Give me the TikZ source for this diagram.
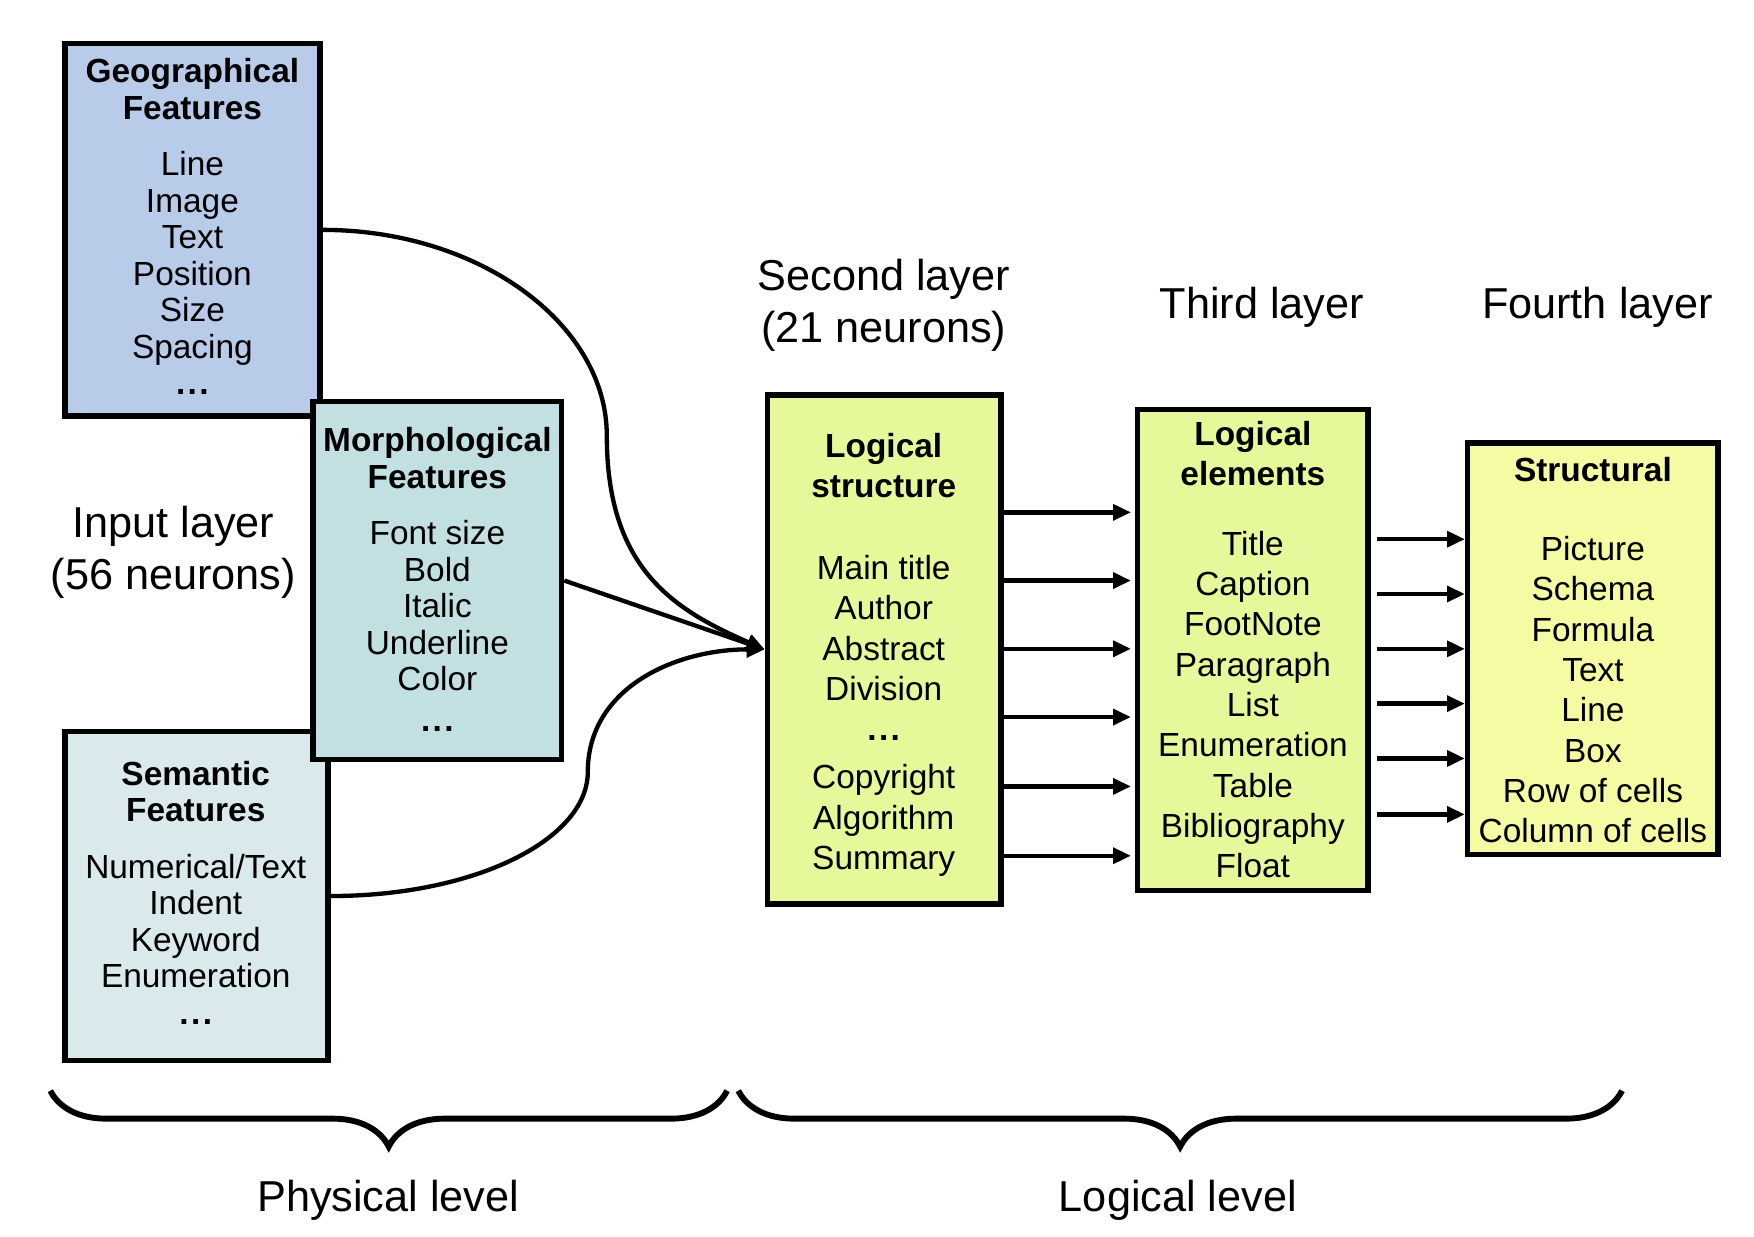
\documentclass[tikz,border=0pt]{standalone}
\usepackage{fontspec}
\setmainfont{Liberation Sans}
\usetikzlibrary{arrows.meta,decorations.pathreplacing}

\definecolor{geoblue}{HTML}{B8CCEA}
\definecolor{morphblue}{HTML}{C2E0E2}
\definecolor{semblue}{HTML}{DAEAEC}
\definecolor{logyellow}{HTML}{E5F99B}
\definecolor{structyellow}{HTML}{F5FBA2}

\newcommand{\moredots}{\textbf{.\kern1.2pt.\kern1.2pt.}}

\begin{document}
\begin{tikzpicture}[
    box/.style={draw, line width=2.8pt, inner sep=0pt},
    ftxt/.style={anchor=north, align=center, inner sep=0pt, font=\fontsize{17}{18.6}\selectfont},
    ltxt/.style={anchor=north, align=center, inner sep=0pt, font=\fontsize{17}{20.5}\selectfont},
    layer/.style={anchor=north, align=center, inner sep=0pt, font=\fontsize{22}{26.6}\selectfont},
    conn/.style={line width=2.2pt, -{Triangle[length=0.32cm,width=0.28cm]}},
    brc/.style={decorate, decoration={brace, mirror, amplitude=1cm}, line width=3pt}
  ]

  \useasboundingbox (0,0) rectangle (31.36,-22.10);

  % boxes
  \begin{scope}[every node/.style={box}]
    \node[fill=geoblue, minimum width=4.56cm, minimum height=6.66cm] (geo) at (3.44,-4.11) {};
    \node[fill=semblue, minimum width=4.70cm, minimum height=5.88cm] (sem) at (3.51,-16.02) {};
    \node[fill=morphblue, minimum width=4.44cm, minimum height=6.40cm] (morph) at (7.82,-10.38) {};
    \node[fill=logyellow, minimum width=4.18cm, minimum height=9.10cm] (lstruct) at (15.81,-11.61) {};
    \node[fill=logyellow, minimum width=4.12cm, minimum height=8.60cm] (lelem) at (22.40,-11.62) {};
    \node[fill=structyellow, minimum width=4.48cm, minimum height=7.36cm] (struct) at (28.48,-11.60) {};
  \end{scope}

  % box contents
  \node[ftxt] (geo-t) at (3.44,-1.04) {\textbf{Geographical}\\\textbf{Features}\\[10pt]Line\\Image\\Text\\Position\\Size\\Spacing\\\moredots};
  \node[ftxt] (morph-t) at (7.82,-7.64) {\textbf{Morphological}\\\textbf{Features}\\[10pt]Font size\\Bold\\Italic\\Underline\\Color\\[2pt]\moredots};
  \node[ftxt] (sem-t) at (3.50,-13.60) {\textbf{Semantic}\\\textbf{Features}\\[10pt]Numerical/Text\\Indent\\Keyword\\Enumeration\\\moredots};
  \node[ltxt] (lstruct-t) at (15.80,-7.74) {\textbf{Logical}\\\textbf{structure}\\[21pt]Main title\\Author\\Abstract\\Division\\\moredots\\[4pt]Copyright\\Algorithm\\Summary};
  \node[ltxt] (lelem-t) at (22.40,-7.52) {\textbf{Logical}\\\textbf{elements}\\[15pt]Title\\Caption\\FootNote\\Paragraph\\List\\Enumeration\\Table\\Bibliography\\Float};
  \node[ltxt] (struct-t) at (28.48,-8.16) {\textbf{Structural}\\[20pt]Picture\\Schema\\Formula\\Text\\Line\\Box\\Row of cells\\Column of cells};

  % layer names
  \node[layer] (second) at (15.80,-4.62) {Second layer\\(21 neurons)};
  \node[layer] (third) at (22.56,-5.12) {Third layer};
  \node[layer] (fourth) at (28.56,-5.12) {Fourth layer};
  \node[layer] (input) at (3.10,-9.04) {Input layer\\(56 neurons)};

  % connections
  \draw[conn] (geo.east) .. controls +(2.8,0) and +(0,2.0) .. ++(5.08,-3.68)
    .. controls +(0,-2.4) and +(-1.6,0.7) .. (lstruct.west);
  \draw[conn] (morph.east) -- (lstruct.west);
  \draw[conn] (sem.east) .. controls +(2.6,0) and +(0,-1.2) .. ++(4.60,2.22)
    .. controls +(0,1.5) and +(-1.6,0) .. (lstruct.west);

  \foreach \y in {-9.16,-10.38,-11.60,-12.82,-14.06,-15.30}
    \draw[conn, shorten >=2pt] (lstruct.east |- 0,\y) -- (lelem.west |- 0,\y);
  \foreach \y in {-9.64,-10.62,-11.60,-12.58,-13.56,-14.56}
    \draw[conn, shorten <=3pt] (lelem.east |- 0,\y) -- (struct.west |- 0,\y);

  % levels
  \coordinate (phys-l) at (0.90,-19.50);
  \coordinate (phys-r) at (13.00,-19.50);
  \coordinate (logic-l) at (13.20,-19.50);
  \coordinate (logic-r) at (29.00,-19.50);
  \draw[brc] (phys-l) -- (phys-r);
  \draw[brc] (logic-l) -- (logic-r);
  \node[layer] (phys) at (6.94,-21.10) {Physical level};
  \node[layer] (logic) at (21.06,-21.10) {Logical level};

\end{tikzpicture}
\end{document}
